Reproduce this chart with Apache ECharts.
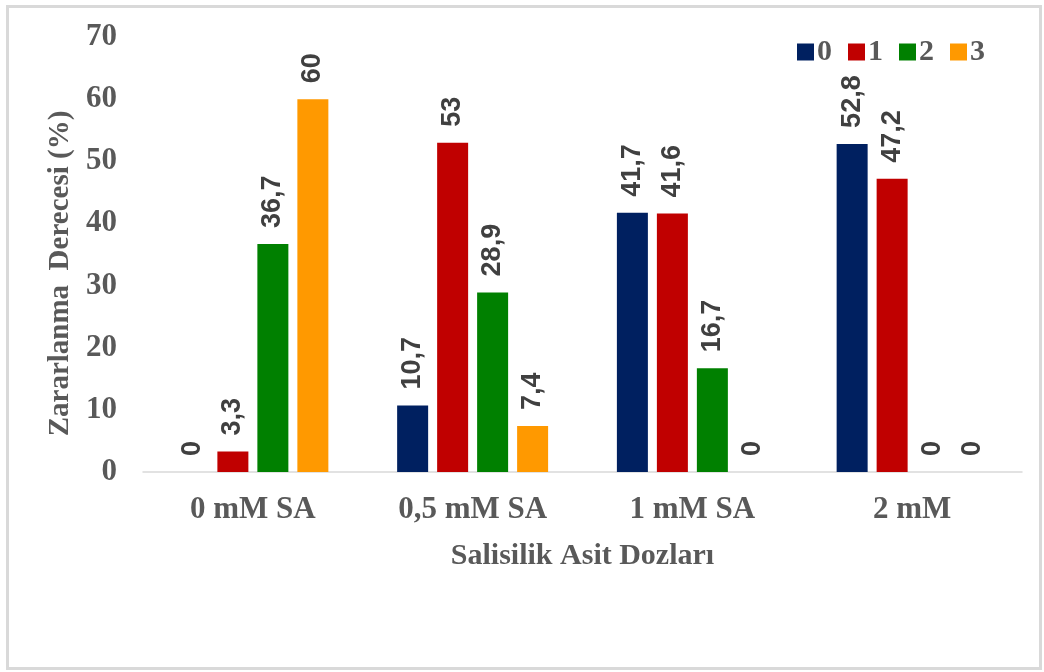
<!DOCTYPE html>
<html>
<head>
<meta charset="utf-8">
<script src="https://cdn.jsdelivr.net/npm/echarts@6/dist/echarts.min.js"></script>
<style>
html,body{margin:0;padding:0;background:#fff;}
#c{width:1044px;height:672px;}
</style>
</head>
<body>
<div id="c"></div>
<script>
const categories = ['0 mM SA', '0,5 mM SA', '1 mM SA', '2 mM'];
const seriesNames = ['0', '1', '2', '3'];
const s0 = [0, 10.7, 41.7, 52.8];
const s1 = [3.3, 53, 41.6, 47.2];
const s2 = [36.7, 28.9, 16.7, 0];
const s3 = [60, 7.4, 0, 0];
const yTicks = [0, 10, 20, 30, 40, 50, 60, 70];
const colors = ['#002060', '#C00000', '#008000', '#FF9900'];

const chart = echarts.init(document.getElementById('c'));
const serif = '"Liberation Serif", "Times New Roman", serif';
const sans = '"Liberation Sans", Arial, sans-serif';
const data = [s0, s1, s2, s3];

chart.setOption({
  animation: false,
  color: colors,
  graphic: [{
    type: 'rect', left: 5, top: 4, silent: true,
    shape: { width: 1033, height: 662 },
    style: { fill: 'none', stroke: '#d9d9d9', lineWidth: 3 }
  }],
  legend: {
    top: 32, right: 54,
    itemWidth: 17, itemHeight: 17, itemGap: 16,
    icon: 'rect',
    data: seriesNames,
    textStyle: { fontFamily: serif, fontWeight: 'bold', fontSize: 30, color: '#595959', padding: [0, 0, 0, -2] }
  },
  grid: { left: 143, right: 22, top: 37, bottom: 200 },
  xAxis: {
    type: 'category',
    data: categories,
    axisLine: { lineStyle: { color: '#d9d9d9', width: 1.5 } },
    axisTick: { show: false },
    axisLabel: { fontFamily: serif, fontWeight: 'bold', fontSize: 31, color: '#595959', margin: 22 },
    name: 'Salisilik Asit Dozları',
    nameLocation: 'middle',
    nameGap: 69,
    nameTextStyle: { fontFamily: serif, fontWeight: 'bold', fontSize: 30, color: '#595959' }
  },
  yAxis: {
    type: 'value',
    min: yTicks[0], max: yTicks[yTicks.length - 1], interval: 10,
    axisLine: { show: false },
    axisTick: { show: false },
    splitLine: { show: false },
    axisLabel: { fontFamily: serif, fontWeight: 'bold', fontSize: 31, color: '#595959', margin: 26 },
    name: 'Zararlanma  Derecesi (%)',
    nameLocation: 'middle',
    nameGap: 68,
    nameTextStyle: { fontFamily: serif, fontWeight: 'bold', fontSize: 29, color: '#595959', padding: [0, 38, 0, 0] }
  },
  series: seriesNames.map((n, i) => ({
    name: n,
    type: 'bar',
    data: data[i],
    barWidth: 31,
    barGap: '29%',
    label: {
      show: true,
      position: 'top',
      rotate: 90,
      align: 'left',
      verticalAlign: 'middle',
      distance: 16,
      fontFamily: sans,
      fontWeight: 'bold',
      fontSize: 27,
      color: '#404040',
      formatter: p => String(p.value).replace('.', ',')
    }
  }))
});
</script>
</body>
</html>
